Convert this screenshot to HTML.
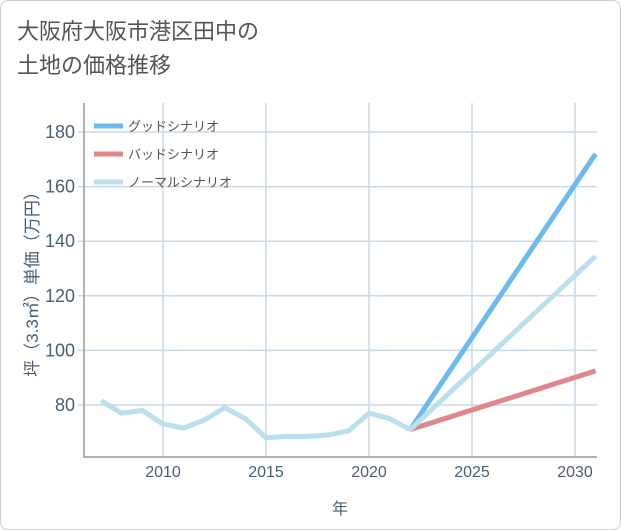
<!DOCTYPE html>
<html><head><meta charset="utf-8"><style>
body{margin:0;background:#fff;}
.wrap{position:relative;width:619px;height:528px;border:1px solid #ccc;border-radius:8px;background:#fff;overflow:hidden;font-family:"Liberation Sans","Noto Sans CJK JP",sans-serif;}
.title{position:absolute;left:16px;top:14px;font-size:22px;line-height:34px;color:#555;}
</style></head><body>
<div class="wrap">
<div class="title">大阪府大阪市港区田中の<br>土地の価格推移</div>
<svg id="chart" width="621" height="530" style="position:absolute;left:-1px;top:-1px"></svg>
</div>
<script>
const years=[2007,2008,2009,2010,2011,2012,2013,2014,2015,2016,2017,2018,2019,2020,2021,2022];
const normalHist=[81.5,77,78,73,71.5,74.5,79,75,68,68.5,68.5,69,70.5,77,75,71];
const projYears=[2022,2031];
const goodVals=[71,172];
const badVals=[71,92.5];
const normalVals=[71,134.5];
const xTicks=[2010,2015,2020,2025,2030];
const yTicks=[80,100,120,140,160,180];
const legendLabels=["グッドシナリオ","バッドシナリオ","ノーマルシナリオ"];
const NS="http://www.w3.org/2000/svg";
const svg=document.getElementById('chart');
const L=84,R=597,T=103,B=457;
const x=v=>163+(v-2010)*20.6;
const y=v=>405-(v-80)*2.73;
function el(tag,attrs,parent){const e=document.createElementNS(NS,tag);for(const k in attrs)e.setAttribute(k,attrs[k]);(parent||svg).appendChild(e);return e;}
xTicks.forEach(t=>{const g=el('line',{x1:x(t),x2:x(t),y1:T,y2:B,stroke:'#cbd8e5','stroke-width':1.5});

const tx=el('text',{x:x(t),y:B+20,'text-anchor':'middle','font-size':16,fill:'#4a5f75'});tx.textContent=t;
});
yTicks.forEach(t=>{const g=el('line',{x1:L-6,x2:R,y1:y(t),y2:y(t),stroke:'#cbd8e5','stroke-width':1.5});

const tx=el('text',{x:L-9,y:y(t)+6,'text-anchor':'end','font-size':18,fill:'#4a5f75'});tx.textContent=t;
});
const ax=el('path',{d:`M${L} ${T}V${B}H${R}`,fill:'none',stroke:'#999','stroke-width':1.5});

const xt=el('text',{x:340,y:514,'text-anchor':'middle','font-size':16,fill:'#4a5f75'});xt.textContent='年';

const yt=el('text',{x:0,y:0,'text-anchor':'middle','font-size':17,fill:'#4a5f75',transform:`translate(38,${(T+B)/2}) rotate(-90)`});yt.textContent='坪（3.3㎡）単価（万円）';

function line(xs,vs,color,name){const p=el('polyline',{points:xs.map((v,i)=>x(v)+','+y(vs[i])).join(' '),fill:'none',stroke:color,'stroke-width':5,'stroke-linejoin':'round'});
}
line(projYears,goodVals,'#6cbaf0','good-scenario-line');
line(projYears,badVals,'#e0868c','bad-scenario-line');
line(projYears,normalVals,'#bcdfed','normal-scenario-line');
line(years,normalHist,'#bcdfed','historical-line');
const colors=['#6cbaf0','#e0868c','#bcdfed'];
legendLabels.forEach((lab,i)=>{const yy=126+i*28;
const s=el('line',{x1:94,x2:123,y1:yy,y2:yy,stroke:colors[i],'stroke-width':5});

const t=el('text',{x:128,y:yy+5,'font-size':13,fill:'#555'});t.textContent=lab;
});
</script>
</body></html>
